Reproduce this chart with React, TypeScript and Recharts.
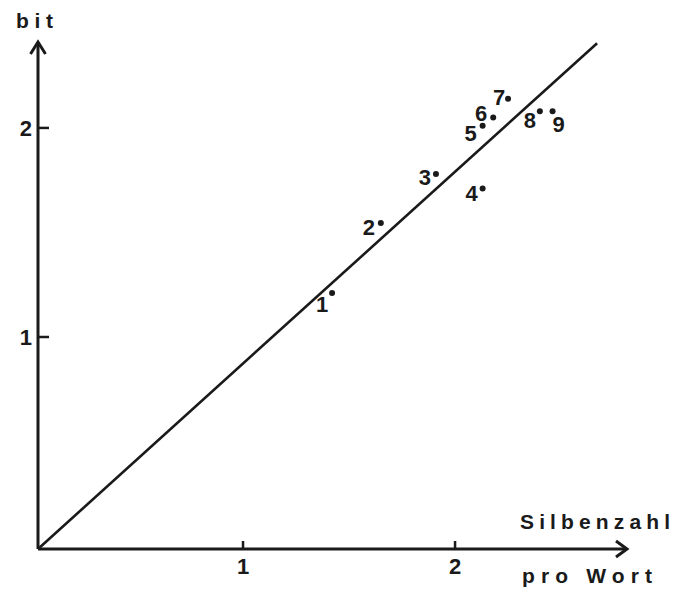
import { ScatterChart, Scatter, XAxis, YAxis, ReferenceLine } from 'recharts'

// Silbenzahl pro Wort (x) gegen bit (y), Punkte 1..9
const POINT_LABELS = ['1', '2', '3', '4', '5', '6', '7', '8', '9']
const SILBEN = [1.42, 1.65, 1.91, 2.13, 2.13, 2.18, 2.25, 2.4, 2.46]
const BIT = [1.21, 1.545, 1.78, 1.71, 2.01, 2.05, 2.14, 2.08, 2.08]

// Ausgleichsgerade
const FIT_LINE_X = [0.033, 2.67]
const FIT_LINE_Y = [-0.014, 2.405]

const X_TICKS = [1, 2]
const Y_TICKS = [1, 2]

const INK = '#1a1a1a'
const FONT = '"Liberation Sans", Arial, Helvetica, sans-serif'

// label placement next to each dot (px)
const LABEL_OFFSETS: Record<string, [number, number]> = {
  '1': [-10, 11],
  '2': [-12, 4],
  '3': [-11, 3],
  '4': [-11, 5],
  '5': [-12, 7],
  '6': [-12, -4],
  '7': [-9, -2],
  '8': [-10, 9],
  '9': [6, 13],
}

const points = POINT_LABELS.map((name, i) => ({ name, x: SILBEN[i], y: BIT[i] }))

function PointShape(props: any) {
  const { cx, cy, payload } = props
  const [dx, dy] = LABEL_OFFSETS[payload.name] ?? [-10, 5]
  return (
    <g>
      <circle cx={cx} cy={cy} r={3} fill={INK} />
      <text
        x={cx + dx}
        y={cy + dy}
        dy="0.36em"
        textAnchor="middle"
        fontFamily={FONT}
        fontWeight="bold"
        fontSize={22}
        fill={INK}
      >
        {payload.name}
      </text>
    </g>
  )
}

function XTick(props: any) {
  const { x, y, payload } = props
  return (
    <g>
      <line x1={x} y1={y} x2={x} y2={y - 8} stroke={INK} strokeWidth={2.5} />
      <text x={x} y={y + 25} textAnchor="middle" fontFamily={FONT} fontWeight="bold" fontSize={22} fill={INK}>
        {payload.value}
      </text>
    </g>
  )
}

function YTick(props: any) {
  const { x, y, payload } = props
  return (
    <g>
      <line x1={x} y1={y} x2={x + 11} y2={y} stroke={INK} strokeWidth={2.5} />
      <text x={x - 6} y={y} dy="0.36em" textAnchor="end" fontFamily={FONT} fontWeight="bold" fontSize={22} fill={INK}>
        {payload.value}
      </text>
    </g>
  )
}

function XAxisLabel(props: any) {
  const { x, y, width } = props.viewBox
  const tip = x + width
  return (
    <g>
      <polyline
        points={`${tip - 11},${y - 8} ${tip},${y} ${tip - 11},${y + 8}`}
        fill="none"
        stroke={INK}
        strokeWidth={3}
      />
      <text x={520} y={529} textLength={150} lengthAdjust="spacing" fontFamily={FONT} fontWeight="bold" fontSize={21} fill={INK}>
        Silbenzahl
      </text>
      <text x={522} y={583} textLength={130} lengthAdjust="spacing" fontFamily={FONT} fontWeight="bold" fontSize={21} fill={INK}>
        pro Wort
      </text>
    </g>
  )
}

function YAxisLabel(props: any) {
  const { x, y, width } = props.viewBox
  const ax = x + width
  return (
    <g>
      <polyline
        points={`${ax - 7.5},${y + 12} ${ax},${y} ${ax + 7.5},${y + 12}`}
        fill="none"
        stroke={INK}
        strokeWidth={3}
      />
      <text x={16} y={28} textLength={37} lengthAdjust="spacing" fontFamily={FONT} fontWeight="bold" fontSize={21} fill={INK}>
        bit
      </text>
    </g>
  )
}

export default function App() {
  return (
    <div style={{ position: 'absolute', left: 0, top: 0, width: 679, height: 589, background: '#fff' }}>
      <ScatterChart width={679} height={589} margin={{ top: 42, right: 52, left: 0, bottom: 0 }}>
        <XAxis
          type="number"
          dataKey="x"
          domain={[0.033, 2.811]}
          allowDataOverflow
          ticks={X_TICKS}
          height={40}
          tickSize={0}
          tickMargin={0}
          tickLine={false}
          axisLine={{ stroke: INK, strokeWidth: 3 }}
          tick={<XTick />}
          label={{ content: <XAxisLabel /> }}
        />
        <YAxis
          type="number"
          dataKey="y"
          domain={[-0.014, 2.411]}
          allowDataOverflow
          ticks={Y_TICKS}
          width={38}
          tickSize={0}
          tickMargin={0}
          tickLine={false}
          axisLine={{ stroke: INK, strokeWidth: 3 }}
          tick={<YTick />}
          label={{ content: <YAxisLabel /> }}
        />
        <ReferenceLine
          segment={[
            { x: FIT_LINE_X[0], y: FIT_LINE_Y[0] },
            { x: FIT_LINE_X[1], y: FIT_LINE_Y[1] },
          ]}
          stroke={INK}
          strokeWidth={2.6}
          ifOverflow="visible"
        />
        <Scatter data={points} shape={<PointShape />} isAnimationActive={false} />
      </ScatterChart>
    </div>
  )
}
